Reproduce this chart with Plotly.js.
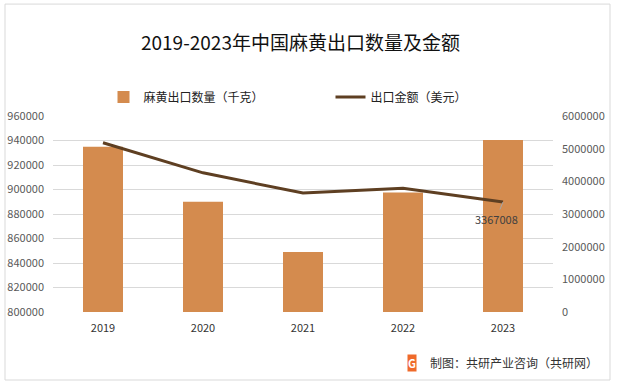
<!DOCTYPE html>
<html><head><meta charset="utf-8">
<script src="https://cdn.plot.ly/plotly-3.0.1.min.js"></script>
<style>html,body{margin:0;padding:0;background:#fff}#c{width:617px;height:386px}</style>
</head><body><div id="c"></div>
<script>
const years = [2019, 2020, 2021, 2022, 2023];
const yearLabels = ['2019','2020','2021','2022','2023'];
const quantity = [935000, 890000, 849000, 897500, 940500];
const amount = [5180000, 4260000, 3640000, 3790000, 3367008];
const leftTicks = [800000,820000,840000,860000,880000,900000,920000,940000,960000];
const rightTicks = [0,1000000,2000000,3000000,4000000,5000000,6000000];

const F = '"Noto Sans CJK SC", "Noto Sans", sans-serif';
const traces = [
  {type:'bar', x:years, y:quantity, name:'麻黄出口数量（千克）', marker:{color:'#D48B4E'}, width:0.4, yaxis:'y'},
  {type:'scatter', mode:'lines', x:years, y:amount, name:'出口金额（美元）', line:{color:'#5E3F22', width:3}, yaxis:'y2'}
];
const layout = {
  width:617, height:386,
  margin:{l:53, r:64, t:116, b:74},
  paper_bgcolor:'#fff', plot_bgcolor:'#fff',
  font:{family:F, size:11, color:'#595959'},
  title:{text:'2019-2023年中国麻黄出口数量及金额', x:0.487, xanchor:'center', y:0.888, yanchor:'middle', font:{family:F, size:19, color:'#111'}},
  showlegend:true,
  legend:{orientation:'h', x:0.101, xanchor:'left', y:1.097, yanchor:'middle', font:{family:F, size:12, color:'#222'}, entrywidth:182, itemwidth:30, bgcolor:'rgba(0,0,0,0)'},
  xaxis:{type:'linear', range:[2018.5, 2023.5], tickvals:years, ticktext:yearLabels, showgrid:false, zeroline:false, showline:false, ticks:'', ticklabelstandoff:8, tickfont:{size:11, color:'#333'}},
  yaxis:{range:[800000,960000], tickvals:leftTicks, ticktext:leftTicks.map(String), showgrid:true, gridcolor:'#d9d9d9', zeroline:false, ticks:'', ticklabelstandoff:8, tickfont:{size:11, color:'#595959'}},
  yaxis2:{overlaying:'y', side:'right', range:[0,6000000], tickvals:rightTicks, ticktext:rightTicks.map(String), showgrid:false, zeroline:false, ticks:'', ticklabelstandoff:8, tickfont:{size:11, color:'#595959'}},
  annotations:[
    {x:years[4], y:amount[4], xref:'x', yref:'y2', text:String(amount[4]), showarrow:true, arrowhead:0, arrowwidth:1, arrowcolor:'#a6a6a6', ax:-7, ay:17, font:{size:11, color:'#404040'}},
    {x:1.094, xref:'paper', y:-0.26, yref:'paper', xanchor:'right', yanchor:'middle', text:'制图：共研产业咨询（共研网）', showarrow:false, font:{family:F, size:12, color:'#333'}},
    {x:0.718, xref:'paper', y:-0.26, yref:'paper', xanchor:'center', yanchor:'middle', text:'<b>G</b>', showarrow:false, font:{family:F, size:11, color:'#fff'}, bgcolor:'#EF6A2A', borderpad:0}
  ],
  shapes:[
    {type:'rect', xref:'paper', yref:'paper', x0:-0.096, x1:1.114, y0:-0.347, y1:1.571, line:{color:'#d9d9d9', width:1}, fillcolor:'rgba(0,0,0,0)', layer:'below'}
  ]
};
Plotly.newPlot('c', traces, layout, {staticPlot:true, displayModeBar:false});
</script></body></html>
